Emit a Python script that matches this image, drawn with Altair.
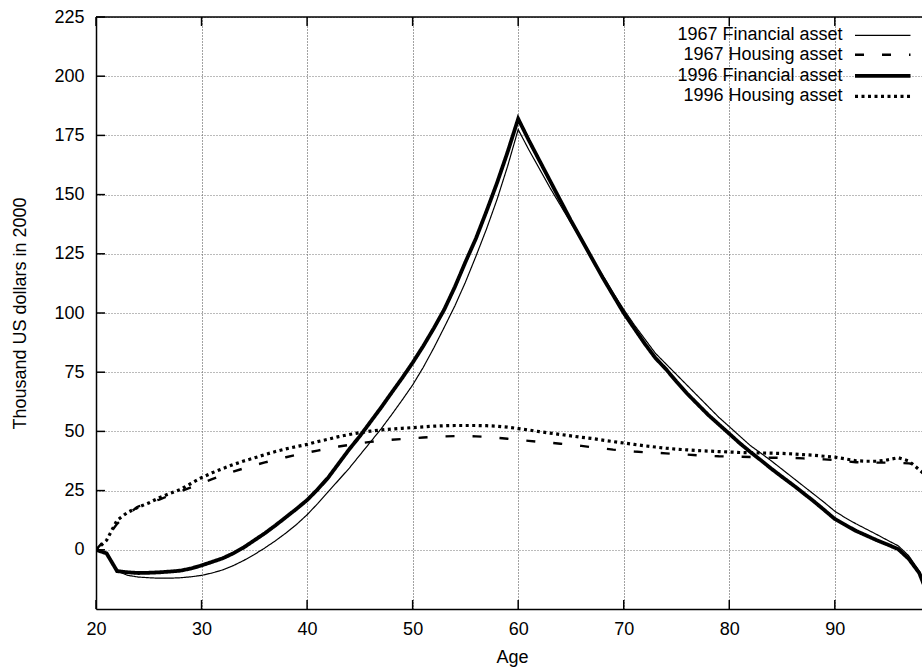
import altair as alt
import pandas as pd

ages = list(range(20, 100))

fin_1967 = [0, -1.5, -9, -10.8, -11.5, -11.8, -12, -12, -11.8, -11.4,
            -10.8, -9.8, -8.5, -6.7, -4.5, -2, 0.8, 3.8, 7.1, 10.7,
            14.8, 19.5, 24.5, 29.5, 34.5, 40, 45.5, 51, 57, 63.2,
            69.6, 77, 85.2, 94, 103, 113, 124, 135.5, 148, 162,
            177.5, 169, 161, 153, 145.5, 138, 130.5, 123, 116, 108.5,
            101.5, 95, 89, 83, 78.5, 74, 69.5, 65, 60.5, 56,
            52, 48, 44, 40.8, 37.5, 34, 30.5, 27, 23.5, 20,
            16.3, 13.5, 11, 8.7, 6.4, 4, 1.7, -2.5, -9, -19]

house_1967 = [0, 5, 11, 15, 18.3, 19.8, 21.2, 23, 24.7, 26.4,
              28.2, 29.8, 31.5, 33, 34.4, 35.7, 36.9, 38, 39.1, 40.1,
              41, 41.9, 42.8, 43.6, 44.3, 45, 45.6, 46.1, 46.5, 46.8,
              47.1, 47.4, 47.7, 47.9, 48, 48, 47.9, 47.7, 47.3, 46.9,
              46.4, 46, 45.6, 45.2, 44.8, 44.4, 43.9, 43.3, 42.8, 42.3,
              41.9, 41.5, 41.2, 41, 40.7, 40.4, 40.2, 39.9, 39.7, 39.5,
              39.4, 39.3, 39.2, 39, 38.9, 38.9, 38.8, 38.6, 38.4, 38.2,
              37.9, 37.4, 37, 36.9, 36.8, 36.8, 36.7, 36.5, 36, 35]

fin_1996 = [0, -1.5, -9, -9.5, -9.8, -9.7, -9.5, -9.2, -8.8, -7.9,
            -6.6, -5.1, -3.6, -1.5, 1, 4, 7, 10.3, 13.8, 17.3,
            21, 25.5, 30.5, 36.5, 42.5, 48, 54, 60, 66.3, 72.5,
            79, 86, 93.5, 101.5, 111, 121.5, 131.5, 143, 155, 168,
            182, 173, 164.5, 156, 147.5, 139, 131, 123, 115, 107.5,
            100, 93.5, 87, 81, 76.3, 71, 66, 61.5, 57, 53,
            49, 45, 41.3, 37.8, 34.2, 30.8, 27.5, 24, 20.5, 16.8,
            13, 10.5, 8, 6, 4, 2.2, 0.3, -3.8, -9.8, -21]

house_1996 = [0, 4, 12.5, 15.8, 18, 19.8, 22, 23.8, 25.5, 28,
              30.5, 32.5, 34.3, 36, 37.5, 38.8, 40.2, 41.5, 42.6, 43.6,
              44.5, 45.7, 46.7, 47.8, 48.7, 49.5, 50.1, 50.6, 51, 51.3,
              51.6, 51.9, 52.2, 52.4, 52.5, 52.5, 52.5, 52.4, 52.2, 51.8,
              51.2, 50.6, 49.9, 49.3, 48.7, 48.1, 47.5, 47, 46.3, 45.7,
              45.1, 44.5, 43.9, 43.4, 42.9, 42.5, 42.2, 41.9, 41.7, 41.5,
              41.3, 41.1, 41, 40.9, 40.8, 40.7, 40.5, 40.2, 39.9, 39.5,
              39.1, 38.4, 37.6, 37.4, 37.4, 38, 38.9, 37.5, 33.8, 30]

series_names = ["1967 Financial asset", "1967 Housing asset",
                "1996 Financial asset", "1996 Housing asset"]
y_ticks = [0, 25, 50, 75, 100, 125, 150, 175, 200, 225]
x_ticks = [20, 30, 40, 50, 60, 70, 80, 90]

rows = []
for name, vals in zip(series_names, [fin_1967, house_1967, fin_1996, house_1996]):
    for a, v in zip(ages, vals):
        rows.append({"age": a, "value": v, "series": name})
df = pd.DataFrame(rows)

W, H = 826, 592
FONT = "Liberation Sans"
FS = 18

xs = alt.Scale(domain=[20, 98.26], nice=False, zero=False)
ys = alt.Scale(domain=[-25, 225], nice=False, zero=False)

dash_range = [[1, 0], [9, 18], [1, 0], [3, 3.5]]
width_range = [1.2, 2.4, 3.8, 3.2]

# gnuplot-style key: text on the left, long line sample on the right
legend = alt.Legend(
    title=None, orient="none", legendX=775.25, legendY=8.3, direction="vertical",
    labelAlign="right", labelOffset={"expr": "-51.75"}, labelLimit=400,
    labelFont=FONT, labelFontSize=FS, labelColor="black",
    symbolType="M-3,0L3,0", symbolSize=342, symbolStrokeColor="black",
    symbolFillColor="transparent",
    rowPadding={"expr": "-2.7"}, padding=0,
)

x_axis = alt.Axis(
    values=x_ticks, title="Age", grid=True, gridColor="#444", gridDash=[1, 2],
    ticks=False, domainColor="black", domainWidth=1.5,
    labelFont=FONT, labelFontSize=FS, labelColor="black", labelPadding=11,
    labelFlush=False,
    titleFont=FONT, titleFontSize=FS, titleFontWeight="normal", titleColor="black",
    titleBaseline="alphabetic", titleY=53, titleX=416,
)
y_axis = alt.Axis(
    values=y_ticks, title="Thousand US dollars in 2000", grid=True,
    gridColor="#777", gridDash=[1, 2],
    ticks=False, domainColor="black", domainWidth=1.5,
    labelFont=FONT, labelFontSize=FS, labelColor="black", labelPadding=12,
    labelFlush=False,
    titleFont=FONT, titleFontSize=FS, titleFontWeight="normal", titleColor="black",
    titleBaseline="alphabetic", titleX=-71, titleY=296,
)

lines = alt.Chart(df).mark_line(clip=True, color="black", strokeCap="butt").encode(
    x=alt.X("age:Q", scale=xs, axis=x_axis),
    y=alt.Y("value:Q", scale=ys, axis=y_axis),
    strokeDash=alt.StrokeDash("series:N",
                              scale=alt.Scale(domain=series_names, range=dash_range),
                              legend=legend),
    strokeWidth=alt.StrokeWidth("series:N",
                                scale=alt.Scale(type="ordinal", domain=series_names,
                                                range=width_range),
                                legend=legend),
)

ytick_df = pd.DataFrame({"v": y_ticks})
xtick_df = pd.DataFrame({"v": x_ticks})

# inward ticks (gnuplot style), on left, bottom and mirrored on top
yticks = alt.Chart(ytick_df).mark_rule(color="black", strokeWidth=1.5).encode(
    y=alt.Y("v:Q", scale=ys, axis=y_axis), x=alt.value(0), x2=alt.value(9))
xticks_b = alt.Chart(xtick_df).mark_rule(color="black", strokeWidth=1.5).encode(
    x=alt.X("v:Q", scale=xs, axis=x_axis), y=alt.value(H), y2=alt.value(H - 9))
xticks_t = alt.Chart(xtick_df).mark_rule(color="black", strokeWidth=1.5).encode(
    x=alt.X("v:Q", scale=xs, axis=x_axis), y=alt.value(0), y2=alt.value(9))
border = alt.Chart(pd.DataFrame({"v": [0]})).mark_rule(color="black", strokeWidth=1.5).encode(
    x=alt.value(0), x2=alt.value(W), y=alt.value(0))

chart = alt.layer(lines, yticks, xticks_b, xticks_t, border).properties(
    width=W, height=H,
    padding={"left": 96, "top": 17, "right": 0, "bottom": 62},
    autosize=alt.AutoSizeParams(type="none"),
    background="white",
).configure_view(stroke=None)

chart.save("out.html", embed_options={"renderer": "svg", "actions": False})
